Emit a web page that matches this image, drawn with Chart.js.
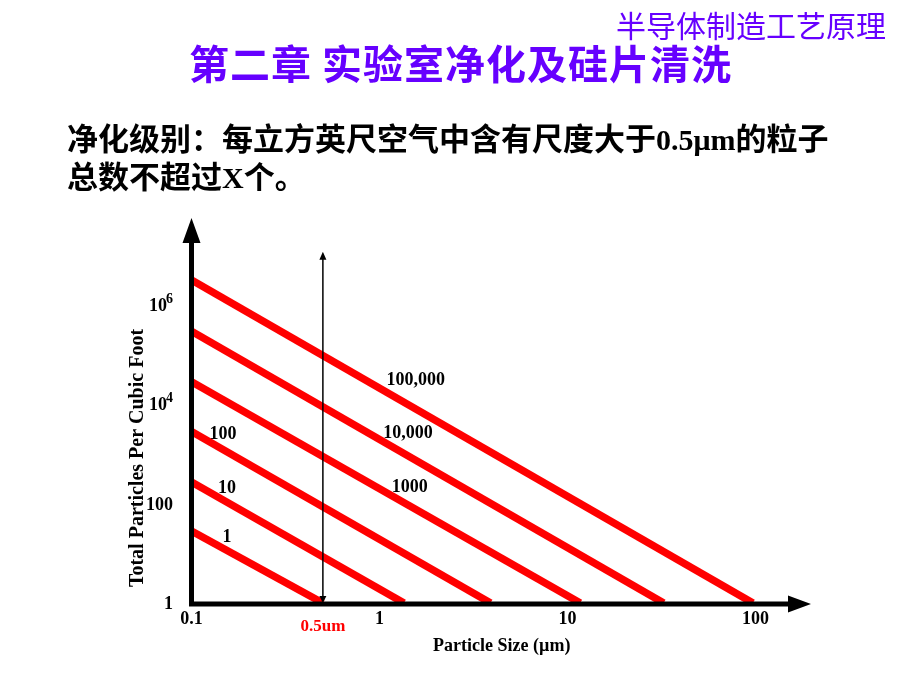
<!DOCTYPE html>
<html>
<head>
<meta charset="utf-8">
<script src="https://cdn.jsdelivr.net/npm/chart.js@4.4.1/dist/chart.umd.min.js"></script>
<style>
  html, body { margin: 0; padding: 0; background: #fff; }
  #wrap { position: relative; width: 920px; height: 690px; overflow: hidden; }
  #chart { position: absolute; left: 0; top: 0; }
  .txt { position: absolute; white-space: nowrap; font-family: "Noto Sans CJK SC", sans-serif; }
  #corner { left: 616px; top: 6px; font-size: 30px; line-height: 36px; color: #6600ff; }
  #title { left: 189px; top: 39px; font-size: 40px; line-height: 46px; color: #6600ff; font-weight: bold; letter-spacing: 1px; }
  .body { left: 67px; font-size: 31px; line-height: 36px; color: #000; font-weight: bold; }
  #line1 { top: 119px; }
  #line2 { top: 157px; }
  .latin { font-family: "Liberation Serif", serif; font-weight: bold; font-size: 30px; }
</style>
</head>
<body>
<div id="wrap">
  <canvas id="chart" width="920" height="690"></canvas>
  <div class="txt" id="corner">半导体制造工艺原理</div>
  <div class="txt" id="title">第二章 实验室净化及硅片清洗</div>
  <div class="txt body" id="line1">净化级别：每立方英尺空气中含有尺度大于<span class="latin">0.5μm</span>的粒子</div>
  <div class="txt body" id="line2">总数不超过<span class="latin">X</span>个。</div>
</div>
<script>
// cleanroom classes, one red line each
const classNames = ["1", "10", "100", "1000", "10,000", "100,000"];
// particles per cubic foot at 0.1 um (left end of each line)
const startCounts = [28, 270, 2800, 28000, 290000, 3100000];
// particle size (um) where each line reaches 1 particle
const endSizes = [0.5, 1.35, 3.9, 11.7, 32.5, 97];

const xTicks = [0.1, 1, 10, 100];
const xTickLabels = ["0.1", "1", "10", "100"];
const yTicks = [1, 100, 1e4, 1e6];
const yTickLabels = ["1", "100", "10", "10"];
const yTickExps = ["", "", "4", "6"];

// where the class names sit, in data units
const labelSizes = [0.1545, 0.1545, 0.147, 1.45, 1.42, 1.56];
const labelCounts = [21, 206, 2510, 216, 2630, 29300];

// the 0.5um marker arrow
const markSize = 0.5;
const markTop = 1.15e7;

const serif = "'Liberation Serif', 'Times New Roman', serif";

const datasets = classNames.map((name, i) => ({
  label: name,
  data: [{ x: 0.1, y: startCounts[i] }, { x: endSizes[i], y: 1 }],
  showLine: true,
  borderColor: "#ff0000",
  borderWidth: 7.5,
  pointRadius: 0,
  fill: false,
}));

const decor = {
  id: "decor",
  afterDatasetsDraw(chart) {
    const { ctx, chartArea: a, scales: { x, y } } = chart;
    ctx.save();
    ctx.fillStyle = "#000";
    ctx.strokeStyle = "#000";

    // 0.5um double arrow
    const mx = x.getPixelForValue(markSize);
    const mt = y.getPixelForValue(markTop);
    ctx.lineWidth = 1.5;
    ctx.beginPath();
    ctx.moveTo(mx, mt + 6);
    ctx.lineTo(mx, a.bottom - 4);
    ctx.stroke();
    ctx.beginPath();
    ctx.moveTo(mx, mt);
    ctx.lineTo(mx - 3.5, mt + 8);
    ctx.lineTo(mx + 3.5, mt + 8);
    ctx.closePath();
    ctx.moveTo(mx, a.bottom);
    ctx.lineTo(mx - 3.5, a.bottom - 7);
    ctx.lineTo(mx + 3.5, a.bottom - 7);
    ctx.closePath();
    ctx.fill();

    // thick axes with arrowheads
    const ay = a.bottom + 1;
    ctx.lineWidth = 5;
    ctx.beginPath();
    ctx.moveTo(a.left, ay + 2.5);
    ctx.lineTo(a.left, a.top + 20);
    ctx.moveTo(a.left - 2.5, ay);
    ctx.lineTo(a.right - 20, ay);
    ctx.stroke();
    ctx.beginPath();
    ctx.moveTo(a.left, a.top - 2);
    ctx.lineTo(a.left - 9, a.top + 23);
    ctx.lineTo(a.left + 9, a.top + 23);
    ctx.closePath();
    ctx.moveTo(a.right - 1, ay);
    ctx.lineTo(a.right - 24, ay - 8.5);
    ctx.lineTo(a.right - 24, ay + 8.5);
    ctx.closePath();
    ctx.fill();

    // y tick labels with superscript exponents
    ctx.textBaseline = "alphabetic";
    yTicks.forEach((v, i) => {
      const py = y.getPixelForValue(v);
      ctx.font = "bold 14px " + serif;
      const ew = yTickExps[i] ? ctx.measureText(yTickExps[i]).width : 0;
      const right = a.left - 18.5;
      ctx.textAlign = "left";
      if (ew) ctx.fillText(yTickExps[i], right - ew, py - 2);
      ctx.font = "bold 18px " + serif;
      ctx.textAlign = "right";
      ctx.fillText(yTickLabels[i], right - (ew ? ew - 1 : 0), py + 6);
    });

    // class names
    ctx.font = "bold 18px " + serif;
    ctx.textAlign = "center";
    ctx.textBaseline = "middle";
    classNames.forEach((name, i) => {
      ctx.fillText(name, x.getPixelForValue(labelSizes[i]), y.getPixelForValue(labelCounts[i]));
    });

    // 0.5um label
    ctx.font = "bold 17px " + serif;
    ctx.fillStyle = "#ff0000";
    ctx.fillText("0.5um", mx, a.bottom + 24);

    // y title
    ctx.fillStyle = "#000";
    ctx.font = "bold 20px " + serif;
    ctx.translate(138, 458);
    ctx.rotate(-Math.PI / 2);
    ctx.fillText("Total Particles Per Cubic Foot", 0, 0);
    ctx.restore();
  },
};

new Chart(document.getElementById("chart"), {
  type: "scatter",
  data: { datasets },
  options: {
    responsive: false,
    animation: false,
    layout: { padding: { top: 220, right: 108, left: 0, bottom: 0 } },
    plugins: { legend: { display: false }, tooltip: { enabled: false } },
    scales: {
      x: {
        type: "logarithmic",
        min: 0.1,
        max: 200,
        grid: { display: false, drawTicks: false },
        border: { display: false },
        afterFit: (scale) => { scale.height = 87; },
        afterBuildTicks: (scale) => { scale.ticks = xTicks.map((v) => ({ value: v })); },
        ticks: {
          autoSkip: false,
          maxRotation: 0,
          padding: 6,
          color: "#000",
          font: { family: serif, size: 18, weight: "bold" },
          callback: (v, i) => xTickLabels[i],
        },
        title: {
          display: true,
          text: "Particle Size (\u00b5m)",
          color: "#000",
          font: { family: serif, size: 18, weight: "bold" },
          padding: { top: 0, bottom: 33 },
        },
      },
      y: {
        type: "logarithmic",
        min: 1,
        max: 5e7,
        grid: { display: false, drawTicks: false },
        border: { display: false },
        afterFit: (scale) => { scale.width = 191.5; },
        afterBuildTicks: (scale) => { scale.ticks = yTicks.map((v) => ({ value: v })); },
        ticks: { display: false },
      },
    },
  },
  plugins: [decor],
});
</script>
</body>
</html>
